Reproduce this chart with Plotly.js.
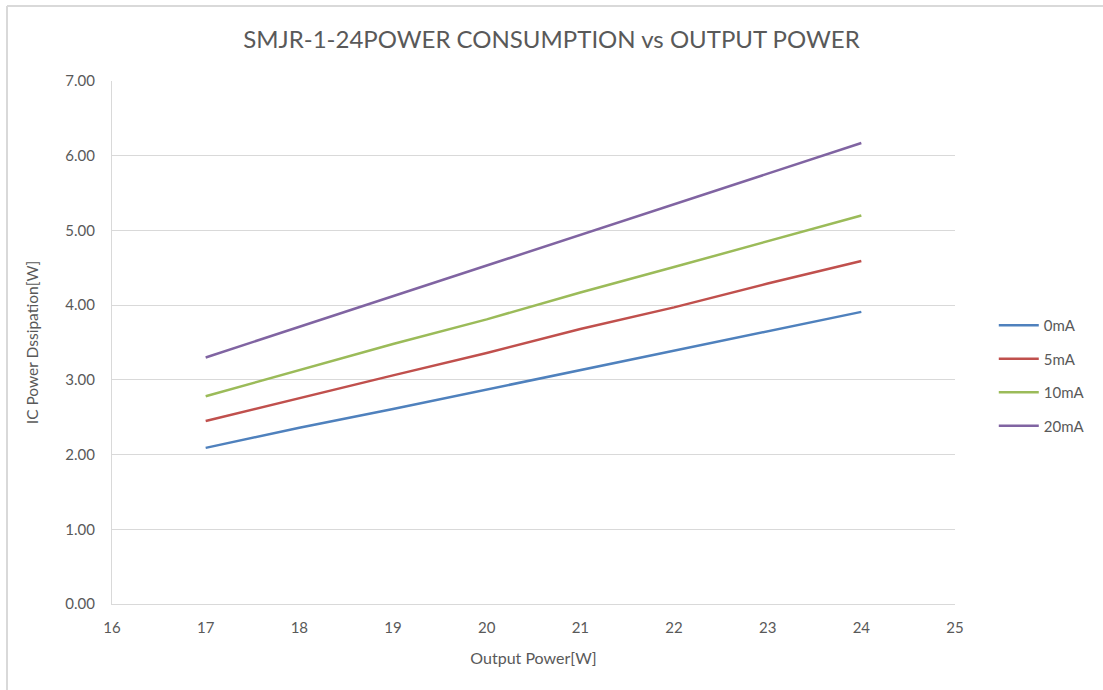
<!DOCTYPE html>
<html>
<head>
<meta charset="utf-8">
<script src="https://cdn.plot.ly/plotly-3.0.1.min.js"></script>
<style>html,body{margin:0;padding:0;background:#fff;}#chart{width:1103px;height:690px;}</style>
</head>
<body>
<div id="chart"></div>
<script>
const outputPower = [17, 18, 19, 20, 21, 22, 23, 24];
const series0mA  = [2.09, 2.36, 2.61, 2.87, 3.13, 3.39, 3.65, 3.91];
const series5mA  = [2.45, 2.76, 3.06, 3.36, 3.68, 3.97, 4.29, 4.59];
const series10mA = [2.78, 3.13, 3.48, 3.81, 4.17, 4.51, 4.86, 5.20];
const series20mA = [3.30, 3.71, 4.12, 4.52, 4.94, 5.34, 5.76, 6.17];
const seriesNames = ["0mA", "5mA", "10mA", "20mA"];
const xTicks = [16, 17, 18, 19, 20, 21, 22, 23, 24, 25];
const yTicks = [0, 1, 2, 3, 4, 5, 6, 7];

const colors = ["#4F81BD", "#C0504D", "#9BBB59", "#8064A2"];
const allSeries = [series0mA, series5mA, series10mA, series20mA];
const traces = allSeries.map((ys, i) => ({
  x: outputPower, y: ys, name: seriesNames[i], type: "scatter", mode: "lines",
  legendgroup: "g" + i,
  line: {color: colors[i], width: 2.5}
}));

const font = "Lato, 'Open Sans', sans-serif";
const layout = {
  width: 1103, height: 690,
  margin: {l: 112, r: 148, t: 81, b: 86},
  paper_bgcolor: "#ffffff", plot_bgcolor: "#ffffff",
  font: {family: font, color: "#595959", size: 14},
  title: {text: "SMJR-1-24POWER CONSUMPTION vs OUTPUT POWER", font: {family: font, size: 24, color: "#595959"}, x: 0.5, xanchor: "center", y: 0.942, yanchor: "middle"},
  xaxis: {
    range: [16, 25], tickvals: xTicks, ticktext: xTicks.map(String),
    showgrid: false, zeroline: false, showline: true, linecolor: "#d9d9d9", linewidth: 1,
    ticks: "", ticklabelstandoff: 10,
    tickfont: {size: 15, color: "#595959"},
    title: {text: "Output Power[W]", font: {size: 16, color: "#595959"}, standoff: 17}
  },
  yaxis: {
    range: [0, 7], tickvals: yTicks, ticktext: yTicks.map(v => v.toFixed(2)),
    showgrid: true, gridcolor: "#d9d9d9", gridwidth: 1, zeroline: false,
    showline: true, linecolor: "#d9d9d9", linewidth: 1,
    ticks: "", ticklabelstandoff: 13,
    tickfont: {size: 15, color: "#595959"},
    title: {text: "IC Power Dssipation[W]", font: {size: 15.5, color: "#595959"}, standoff: 22}
  },
  showlegend: true,
  legend: {
    x: 1.046, y: 0.564, xanchor: "left", yanchor: "top",
    traceorder: "grouped", tracegroupgap: 11,
    font: {size: 15, color: "#595959"}, itemwidth: 40,
    bgcolor: "rgba(0,0,0,0)"
  },
  shapes: [
    {type: "line", xref: "paper", yref: "paper", x0: (7-112)/843, x1: 1.2, y0: (604-6)/523, y1: (604-6)/523, line: {color: "#d9d9d9", width: 2}},
    {type: "line", xref: "paper", yref: "paper", x0: (7-112)/843, x1: (7-112)/843, y0: (604-6)/523, y1: -0.2, line: {color: "#d9d9d9", width: 2}}
  ]
};
Plotly.newPlot("chart", traces, layout, {displayModeBar: false, staticPlot: true});
</script>
</body>
</html>
